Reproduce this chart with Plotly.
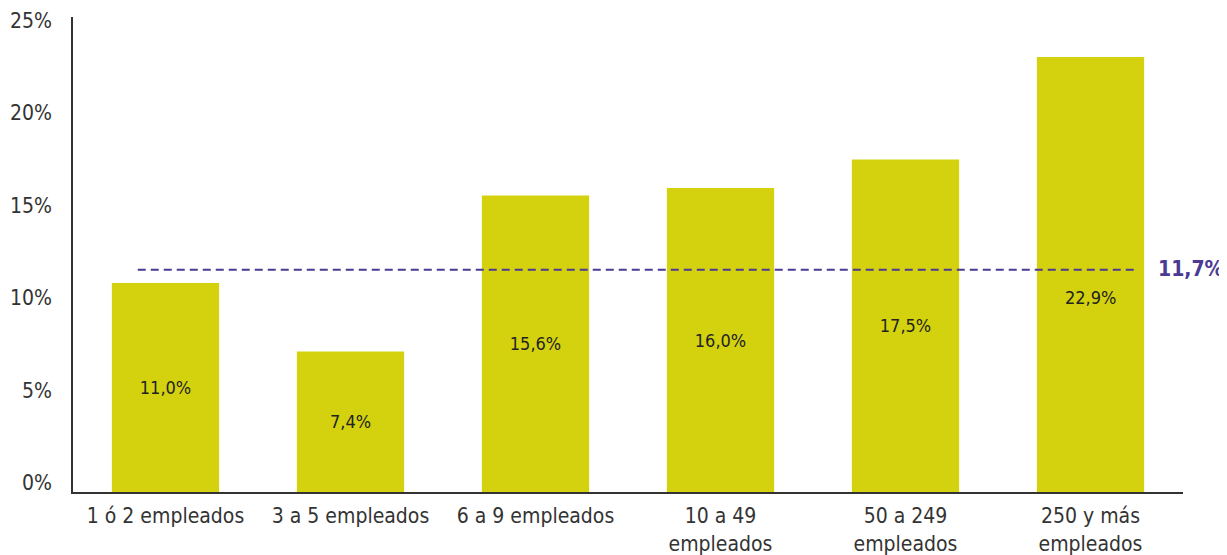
import plotly.graph_objects as go

categories = ["1 ó 2 empleados", "3 a 5 empleados", "6 a 9 empleados",
              "10 a 49<br>empleados", "50 a 249<br>empleados", "250 y más<br>empleados"]
values = [11.0, 7.4, 15.6, 16.0, 17.5, 22.9]
value_labels = ["11,0%", "7,4%", "15,6%", "16,0%", "17,5%", "22,9%"]
average = 11.7
average_label = "11,7%"
y_ticks = [0, 5, 10, 15, 20, 25]
y_tick_labels = ["0%", "5%", "10%", "15%", "20%", "25%"]

FONT = "Liberation Sans Narrow, DejaVu Sans Condensed, Liberation Sans, sans-serif"
BAR = "#D4D20E"
PURPLE = "#4B3A94"
x_idx = list(range(len(categories)))

fig = go.Figure()
# bar labels: all centred, except the last one, which sits below the average line
bar_text = value_labels[:-1] + [""]
fig.add_trace(go.Bar(
    x=x_idx, y=values,
    marker=dict(color=BAR, line=dict(width=0)),
    text=bar_text, textposition="inside", insidetextanchor="middle",
    textangle=0,
    textfont=dict(family=FONT, size=18, color="#222222"),
    hoverinfo="skip",
))
fig.add_annotation(xref="x", yref="y", x=x_idx[-1], y=values[-1] / 2,
                   text=value_labels[-1], showarrow=False, yshift=-23,
                   font=dict(family=FONT, size=18, color="#222222"))

fig.add_shape(type="line", xref="x", yref="y",
              x0=-0.15, x1=5.26, y0=average, y1=average,
              line=dict(color=PURPLE, width=2, dash="8px,5px"))
fig.add_annotation(xref="paper", yref="y", x=1.0, y=average,
                   text="<b>" + average_label + "</b>", showarrow=False,
                   xanchor="left", xshift=-27, yshift=1,
                   font=dict(family=FONT, size=21, color=PURPLE))

# y tick labels as annotations (placed a little off the tick, like the reference)
for v, lab in zip(y_ticks, y_tick_labels):
    fig.add_annotation(xref="paper", yref="y", x=0, y=v, text=lab,
                       showarrow=False, xanchor="right", xshift=-19,
                       yshift=9 - 13 * v / 25,
                       font=dict(family=FONT, size=21, color="#333333"))

# page body has an 8px margin: shrink the figure so the plot sits where the reference's does
fig.update_layout(
    width=1219, height=547,
    margin=dict(l=65, r=44, t=9, b=63),
    paper_bgcolor="white", plot_bgcolor="white",
    bargap=0.42, showlegend=False,
    font=dict(family=FONT, color="#333333"),
    uniformtext=dict(minsize=8, mode="show"),
)
fig.update_xaxes(
    tickmode="array", tickvals=x_idx, ticktext=categories,
    range=[-0.5, 5.5], showgrid=False, showline=True, linecolor="#333333",
    linewidth=2, ticks="", ticklabelstandoff=4,
    tickfont=dict(family=FONT, size=21, color="#333333"),
    zeroline=False, automargin=False,
)
fig.update_yaxes(
    range=[0, 25], showgrid=False, showline=True, linecolor="#333333",
    linewidth=2, ticks="", showticklabels=False, automargin=False,
    zeroline=False,
)

fig.write_html("out.html")
